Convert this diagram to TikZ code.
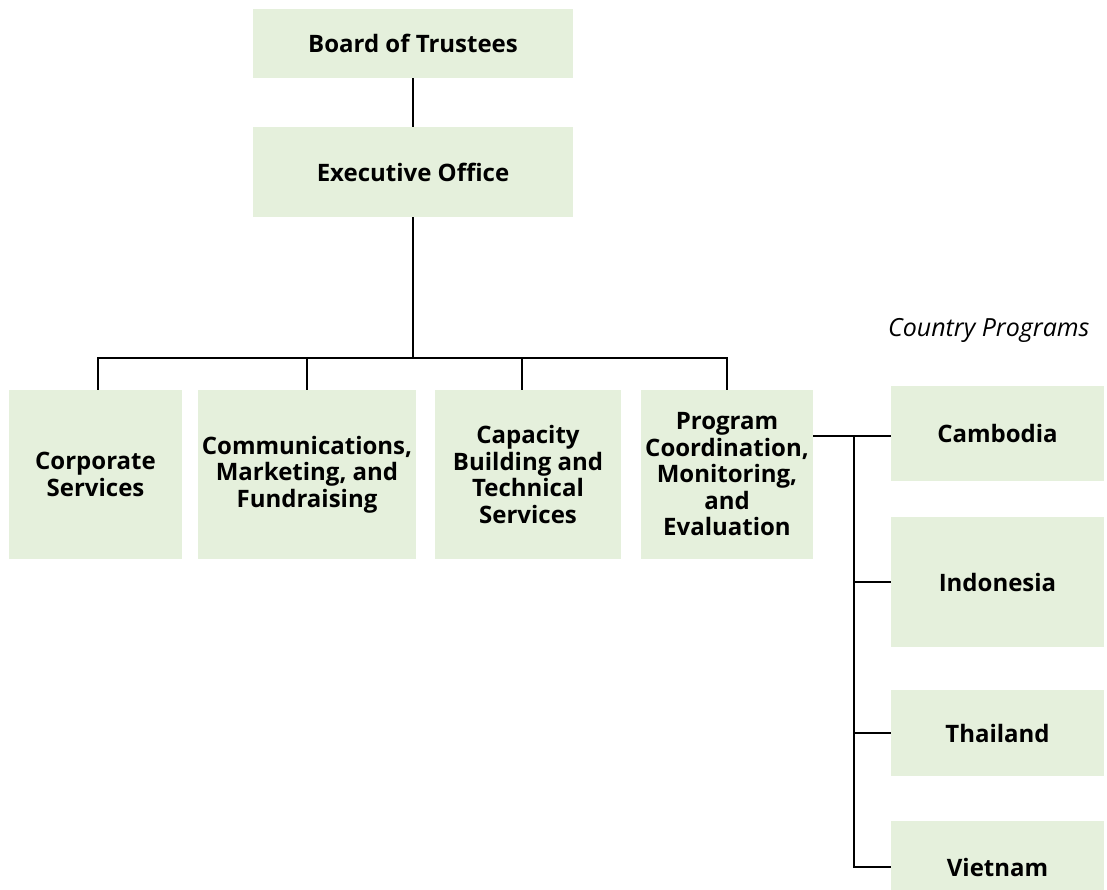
\documentclass[tikz,border=0pt]{standalone}
\usepackage{fontspec}
\setmainfont{Open Sans}
\usetikzlibrary{positioning}
\definecolor{orgfill}{HTML}{E5F0DC}

\begin{document}
\begin{tikzpicture}[x=1pt,y=-1pt,font=\fontsize{24}{26.5}\selectfont\bfseries]
  \tikzstyle{unit}=[fill=orgfill,inner sep=0pt,align=center]
  \tikzstyle{dept}=[unit,minimum height=169pt]
  \tikzstyle{country}=[unit,minimum width=213pt]
  \tikzstyle{link}=[line width=2.2pt]
  \clip (0,0) rectangle (1107,890);
  % top of the chart
  \node[unit,minimum width=320pt,minimum height=69pt] (board) at (413,43.5) {Board of Trustees};
  \node[unit,minimum width=320pt,minimum height=90pt] (exec) at (413,172) {Executive Office};
  % departments
  \node[dept,minimum width=173pt] (corp) at (95.5,474.5) {Corporate\\Services};
  \node[dept,minimum width=218pt] (comm) at (307,474.5) {Communications,\\Marketing, and\\Fundraising};
  \node[dept,minimum width=186pt] (capac) at (528,474.5) {Capacity\\Building and\\Technical\\Services};
  \node[dept,minimum width=172pt] (prog) at (727,474.5) {Program\\Coordination,\\Monitoring,\\and\\Evaluation};
  % country programs
  \node[font=\fontsize{25}{28}\selectfont\itshape,anchor=base east] (cplabel) at (1093,336) {Country Programs};
  \node[country,minimum height=95pt] (cam) at (997.5,433.5) {Cambodia};
  \node[country,minimum height=130pt] (indo) at (997.5,582) {Indonesia};
  \node[country,minimum height=86pt] (thai) at (997.5,733) {Thailand};
  \node[country,minimum height=92pt] (viet) at (997.5,867) {Vietnam};
  % connectors
  \coordinate (bus) at (413,358);
  \coordinate (spine) at (854,0);
  \draw[link] (board) -- (exec);
  \draw[link] (exec) -- (bus);
  \draw[link] ([xshift=2.5pt]corp.north) -- ([xshift=2.5pt]corp.north |- bus) -- (prog.north |- bus) -- (prog.north);
  \draw[link] (comm.north) -- (comm.north |- bus);
  \draw[link] ([xshift=-6pt]capac.north) -- ([xshift=-6pt]capac.north |- bus);
  \draw[link] ([yshift=-2.5pt]prog.east |- cam.west) -- ([yshift=-2.5pt]cam.west);
  \draw[link] ([yshift=-2.5pt]spine |- cam.west) |- (viet.west);
  \foreach \c in {indo,thai}
    \draw[link] (spine |- \c.west) -- (\c.west);
\end{tikzpicture}
\end{document}
